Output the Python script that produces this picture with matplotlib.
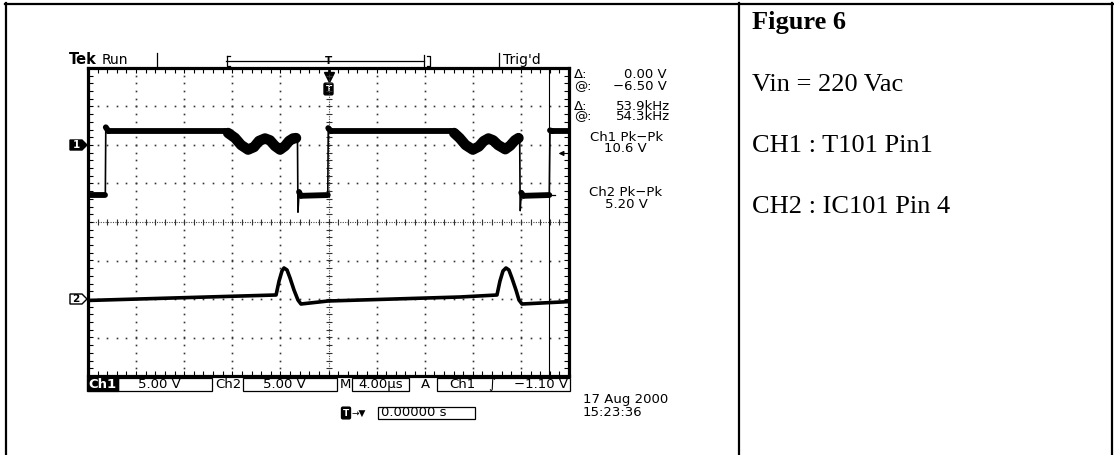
import numpy as np
import matplotlib
matplotlib.use("Agg")
import matplotlib.pyplot as plt
from matplotlib.collections import LineCollection
from matplotlib.patches import Polygon, Rectangle

# waveform data (time in us, volts)
ch1_t = [-20.0, -18.56, -18.52, -18.3, -8.6, -8.35, -7.77, -7.27, -6.69, -6.19,
         -5.78, -5.28, -4.86, -4.45, -4.03, -3.62, -3.28, -2.95, -2.70, -2.58,
         -2.54, -2.45, -2.3, -0.06, -0.02, 0.2, 10.2, 10.45, 10.9, 11.4,
         12.0, 12.5, 12.9, 13.3, 13.7, 14.1, 14.7, 15.1, 15.5, 15.8,
         15.90, 15.94, 16.03, 16.2, 18.36, 18.42, 18.6, 20.0]
ch1_v = [-6.5, -6.5, 2.3, 1.8, 1.8, 1.56, 0.91, 0.0, -0.6, -0.26,
         0.52, 0.85, 0.6, -0.13, -0.6, -0.13, 0.52, 0.85, 0.9, 0.9,
         -8.7, -6.1, -6.6, -6.5, 2.2, 1.8, 1.8, 1.56, 0.91, 0.0,
         -0.6, -0.2, 0.5, 0.85, 0.6, 0.0, -0.55, -0.1, 0.6, 0.9,
         0.9, -8.5, -6.2, -6.6, -6.5, 1.9, 1.8, 1.8]
ch1_ringing = [(-8.5, -2.62), (10.3, 15.85)]

ch2_t = [-20.0, -4.36, -4.11, -3.87, -3.70, -3.45, -3.20, -2.87, -2.54, -2.29,
         -0.04, 10.93, 14.01, 14.26, 14.51, 14.76, 15.0, 15.25, 15.59, 15.84,
         16.09, 20.0]
ch2_v = [-0.19, 0.52, 2.34, 3.64, 4.03, 3.77, 2.73, 1.17, -0.13, -0.65,
         -0.26, 0.26, 0.52, 2.34, 3.64, 4.03, 3.77, 2.73, 1.17, -0.13,
         -0.65, -0.34]

ch1_scale, ch2_scale = 5.0, 5.0      # V/div
ch1_pos, ch2_pos = 2.0, -2.0         # ground position, div
time_div = 4.0                       # us/div
trig_level = -1.10
cursor_t = 18.3
hcursor_v = -6.50

W, H = 1114, 455
fig = plt.figure(figsize=(W / 100, H / 100), dpi=100)
bg = fig.add_axes([0, 0, 1, 1])
bg.set_xlim(0, W)
bg.set_ylim(H, 0)
bg.axis('off')

SF = 'DejaVu Sans'
SERIF = 'Liberation Serif'

# table frame
bg.plot([5, W], [3.5, 3.5], color='k', lw=1.6)
bg.plot([6, 6], [3, H], color='k', lw=1.6)
bg.plot([738.5, 738.5], [3, H], color='k', lw=1.6)
bg.plot([1112, 1112], [3, H], color='k', lw=1.6)

# graticule
gx0, gx1, gy0, gy1 = 88, 569, 68, 376
grat = fig.add_axes([gx0 / W, 1 - gy1 / H, (gx1 - gx0) / W, (gy1 - gy0) / H])
grat.set_xlim(-5 * time_div, 5 * time_div)
grat.set_ylim(-4, 4)
grat.set_xticks([])
grat.set_yticks([])
grat.patch.set_visible(False)
for s in grat.spines.values():
    s.set_linewidth(2.3)

minor_t = np.arange(-20, 20.01, time_div / 5)
minor_y = np.arange(-4, 4.01, 0.2)
for t in np.arange(-16, 17, 4):
    if t == 0:
        continue
    grat.plot(np.full_like(minor_y, t), minor_y, ls='none', marker='s', ms=1.2,
              mew=0, color='#333333')
for y in [-3, -2, -1, 1, 2, 3]:
    grat.plot(minor_t, np.full_like(minor_t, y), ls='none', marker='s', ms=1.2,
              mew=0, color='#333333')
grat.plot([0, 0], [-4, 4], ls=(0, (1, 1.2)), lw=0.8, color='#444444')
grat.plot([-20, 20], [0, 0], ls=(0, (1, 1.2)), lw=0.8, color='#444444')
grat.plot(np.zeros_like(minor_y), minor_y, ls='none', marker='_', ms=4.5, mew=0.8, color='#333333')
grat.plot(minor_t, np.zeros_like(minor_t), ls='none', marker='|', ms=4.5, mew=0.8, color='#333333')
grat.plot(minor_t, np.full_like(minor_t, 4), ls='none', marker=3, ms=3.5, mew=0.8, color='k', clip_on=False)
grat.plot(minor_t, np.full_like(minor_t, -4), ls='none', marker=2, ms=3.5, mew=0.8, color='k', clip_on=False)
grat.plot(np.full_like(minor_y, -20), minor_y, ls='none', marker=1, ms=3.5, mew=0.8, color='k', clip_on=False)
grat.plot(np.full_like(minor_y, 20), minor_y, ls='none', marker=0, ms=3.5, mew=0.8, color='k', clip_on=False)

# channel axes sharing the time base
ax1 = grat.twinx()
ax1.set_ylim((-4 - ch1_pos) * ch1_scale, (4 - ch1_pos) * ch1_scale)
ax1.axis('off')
ax2 = grat.twinx()
ax2.set_ylim((-4 - ch2_pos) * ch2_scale, (4 - ch2_pos) * ch2_scale)
ax2.axis('off')

t1 = np.array(ch1_t)
v1 = np.array(ch1_v)
pts = np.column_stack([t1, v1])
segs = np.stack([pts[:-1], pts[1:]], axis=1)
widths = np.where(np.diff(t1) < 0.15, 1.2, 4.2)
ax1.add_collection(LineCollection(segs, linewidths=widths, colors='k',
                                  capstyle='round', joinstyle='round'))
# ringing is a wide noisy band
for a, b in ch1_ringing:
    m = (t1 >= a) & (t1 <= b)
    ax1.plot(t1[m], v1[m], color='k', lw=7.5, solid_joinstyle='round',
             solid_capstyle='round')

ax2.plot(ch2_t, ch2_v, color='k', lw=2.6, solid_joinstyle='round')

# cursors and trigger level
ax1.axvline(cursor_t, color='k', lw=0.8)
ax1.plot([cursor_t, cursor_t + 0.55], [hcursor_v, hcursor_v], color='k', lw=0.9)
ax1.annotate('', xy=(18.9, trig_level), xytext=(19.85, trig_level),
             arrowprops=dict(arrowstyle='-|>', lw=0.9, color='k', mutation_scale=7))


def to_bg(ax, x, y):
    return bg.transData.inverted().transform(ax.transData.transform((x, y)))


# ground markers
for ax, label, filled in [(ax1, '1', True), (ax2, '2', False)]:
    _, yg = to_bg(ax, -20, 0)
    bg.add_patch(Polygon([(70, yg - 5), (82, yg - 5), (87, yg), (82, yg + 5), (70, yg + 5)],
                         closed=True, facecolor='k' if filled else 'white',
                         edgecolor='k', lw=1))
    bg.text(76, yg + 0.5, label, color='white' if filled else 'k', fontsize=7.5,
            fontweight='bold', ha='center', va='center', family=SF)

# trigger position marker
xt, _ = to_bg(grat, 0, 4)
bg.plot([xt, xt], [68, 76], color='k', lw=2)
bg.plot([xt], [77], marker='v', ms=7, color='k')
bg.text(xt, 89, 'T', color='white', fontsize=6.5, fontweight='bold', ha='center', va='center',
        family=SF, bbox=dict(boxstyle='round,pad=0.15', fc='k', ec='k'))

# record bar on top
bg.text(69, 60, 'Tek', fontsize=10.5, fontweight='bold', va='center', family=SF)
bg.text(102, 60, 'Run', fontsize=10, va='center', family=SF)
bg.plot([157, 157], [53, 67], color='k', lw=0.9)
bg.plot([226, 424], [60.5, 60.5], color='k', lw=0.9)
bg.plot([227, 227, 230], [56, 66, 66], color='k', lw=0.9)
bg.plot([230, 227], [56, 56], color='k', lw=0.9)
bg.plot([424, 424], [55, 66], color='k', lw=0.9)
bg.plot([427, 430, 430, 427], [56, 56, 66, 66], color='k', lw=0.9)
bg.text(xt, 61, 'T', fontsize=7.5, fontweight='bold', ha='center', va='center', family=SF)
bg.plot([499, 499], [53, 67], color='k', lw=0.9)
bg.text(503, 60, "Trig'd", fontsize=10, va='center', family=SF)

# right readouts
ro = dict(fontsize=9.5, va='center', family=SF)
bg.text(574, 75, 'Δ:', **ro)
bg.text(574, 87, '@:', **ro)
bg.text(667, 75, '0.00 V', ha='right', **ro)
bg.text(667, 87, '−6.50 V', ha='right', **ro)
bg.text(574, 106, 'Δ:', **ro)
bg.text(574, 117, '@:', **ro)
bg.text(670, 106, '53.9kHz', ha='right', **ro)
bg.text(670, 117, '54.3kHz', ha='right', **ro)
bg.text(627, 137.5, 'Ch1 Pk−Pk', ha='center', **ro)
bg.text(625, 149, '10.6 V', ha='center', **ro)
bg.text(626, 192, 'Ch2 Pk−Pk', ha='center', **ro)
bg.text(626, 204, '5.20 V', ha='center', **ro)

# bottom status line
yb = 384.5
bg.add_patch(Rectangle((87, 378), 31, 13, facecolor='k', edgecolor='k'))
bg.text(102.5, yb, 'Ch1', color='white', fontweight='bold', ha='center', **ro)
for x0, x1 in [(118, 212), (243, 337), (352, 409), (437, 570)]:
    bg.add_patch(Rectangle((x0, 378), x1 - x0, 13, fill=False, edgecolor='k', lw=0.9))
bg.text(159, yb, '5.00 V', ha='center', **ro)
bg.text(228, yb, 'Ch2', ha='center', **ro)
bg.text(284, yb, '5.00 V', ha='center', **ro)
bg.text(345, yb, 'M', ha='center', **ro)
bg.text(381, yb, '4.00µs', ha='center', **ro)
bg.text(425, yb, 'A', ha='center', **ro)
bg.text(462, yb, 'Ch1', ha='center', **ro)
bg.text(492, yb, '∫', ha='center', **ro)
bg.text(568, yb, '−1.10 V', ha='right', **ro)

bg.text(346, 413, 'T', color='white', fontsize=6.5, fontweight='bold', ha='center', va='center',
        family=SF, bbox=dict(boxstyle='round,pad=0.15', fc='k', ec='k'))
bg.text(352, 413, '→▼', fontsize=6.5, va='center', family=SF)
bg.add_patch(Rectangle((378, 407), 97, 12, fill=False, edgecolor='k', lw=0.9))
bg.text(381, 413, '0.00000 s', **ro)
bg.text(583, 400, '17 Aug 2000', **ro)
bg.text(583, 413, '15:23:36', **ro)

# notes column
bg.text(752, 29, 'Figure 6', fontsize=19, fontweight='bold', family=SERIF)
bg.text(752, 91, 'Vin = 220 Vac', fontsize=19, family=SERIF)
bg.text(752, 152, 'CH1 : T101 Pin1', fontsize=19, family=SERIF)
bg.text(752, 213, 'CH2 : IC101 Pin 4', fontsize=19, family=SERIF)

fig.savefig('out.png', dpi=100)
